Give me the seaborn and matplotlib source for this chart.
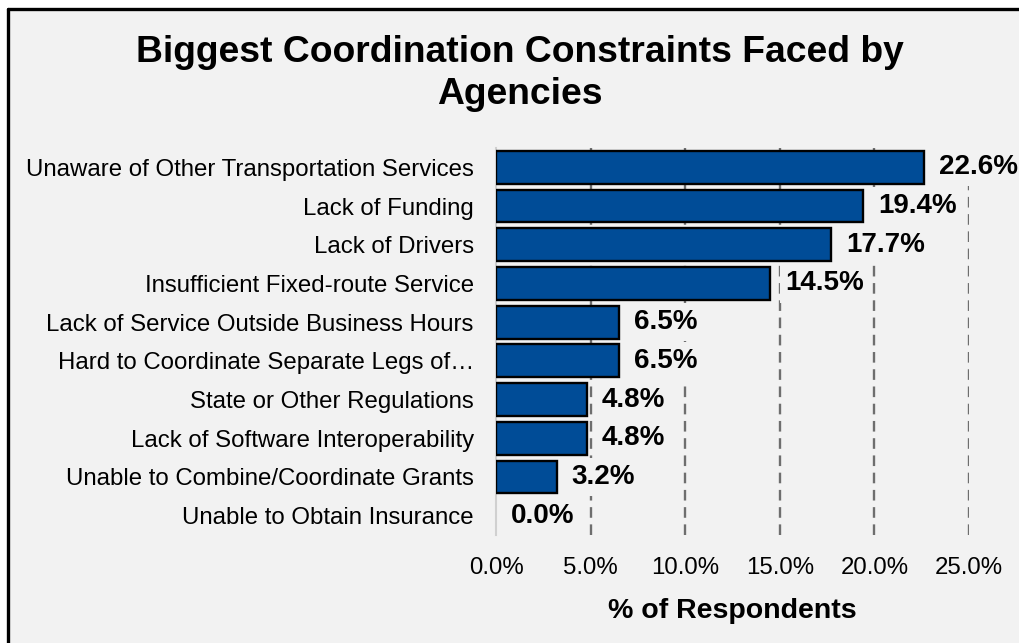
import matplotlib
matplotlib.use("Agg")
import matplotlib.pyplot as plt
from matplotlib.lines import Line2D
import seaborn as sns
import pandas as pd

categories = [
    "Unaware of Other Transportation Services",
    "Lack of Funding",
    "Lack of Drivers",
    "Insufficient Fixed-route Service",
    "Lack of Service Outside Business Hours",
    "Hard to Coordinate Separate Legs of\u2026",
    "State or Other Regulations",
    "Lack of Software Interoperability",
    "Unable to Combine/Coordinate Grants",
    "Unable to Obtain Insurance",
]
shares = [22.6, 19.4, 17.7, 14.5, 6.5, 6.5, 4.8, 4.8, 3.2, 0.0]
x_ticks = [0, 5, 10, 15, 20, 25]

df = pd.DataFrame({"category": categories, "share": shares})

sns.set_theme(style="white")
plt.rcParams["font.family"] = ["Liberation Sans", "DejaVu Sans"]

bg = "#F2F2F2"
bar_color = "#004C97"

fig = plt.figure(figsize=(10.19, 6.43), dpi=100, facecolor="white")
# chart area background and frame (top and left edges)
fig.add_artist(plt.Rectangle((9 / 1019, 0), 1, 1 - 9 / 643, transform=fig.transFigure,
                             facecolor=bg, edgecolor="none", zorder=-10))
fig.add_artist(Line2D([8 / 1019, 1], [1 - 9 / 643, 1 - 9 / 643], transform=fig.transFigure,
                      color="black", lw=2.4))
fig.add_artist(Line2D([8 / 1019, 8 / 1019], [0, 1 - 9 / 643], transform=fig.transFigure,
                      color="black", lw=2.4))

ax = fig.add_axes([496 / 1019, 1 - 535 / 643, (969 - 496) / 1019, (535 - 148) / 643])
ax.set_facecolor(bg)

sns.barplot(data=df, x="share", y="category", orient="h", color=bar_color,
            saturation=1, width=0.85, edgecolor="black", linewidth=1.7, ax=ax, zorder=3)
# an empty bar should not leave an outline on the axis
for patch in ax.patches:
    if patch.get_width() == 0:
        patch.set_edgecolor("none")

ax.set_xlim(0, 25)
ax.set_ylim(len(categories) - 0.5, -0.5)
ax.set_xticks(x_ticks)
ax.set_xticklabels([f"{t:.1f}%" for t in x_ticks], fontsize=17.3)
ax.tick_params(axis="x", length=0, pad=16)
ax.tick_params(axis="y", length=0, pad=16, labelsize=17.3)
for lbl in ax.get_yticklabels() + ax.get_xticklabels():
    lbl.set_color("black")

ax.grid(axis="x", color="#6E6E6E", linestyle=(0, (4.5, 2.8)), linewidth=1.7, zorder=0)
ax.xaxis.get_gridlines()[0].set_visible(False)
for side in ["top", "right", "bottom"]:
    ax.spines[side].set_visible(False)
ax.spines["left"].set_color("#D0D0D0")
ax.spines["left"].set_linewidth(1.5)

# value labels sit on a background-coloured box that masks the gridlines
for i, v in enumerate(shares):
    ax.annotate(f"{v:.1f}%", xy=(v, i), xytext=(11, 0), textcoords="offset points",
                ha="left", va="center", fontsize=20, fontweight="bold", color="black",
                annotation_clip=False, zorder=2,
                bbox=dict(boxstyle="square,pad=0.22", facecolor=bg, edgecolor="none"))

ax.set_ylabel("")
ax.set_xlabel("% of Respondents", fontsize=20.5, fontweight="bold", color="black", labelpad=13.5)

fig.text(520 / 1019, 1 - 73.5 / 643, "Biggest Coordination Constraints Faced by\nAgencies",
         ha="center", va="center", fontsize=26.8, fontweight="bold", color="black",
         linespacing=1.27)

fig.savefig("out.png", dpi=100, facecolor="white")
